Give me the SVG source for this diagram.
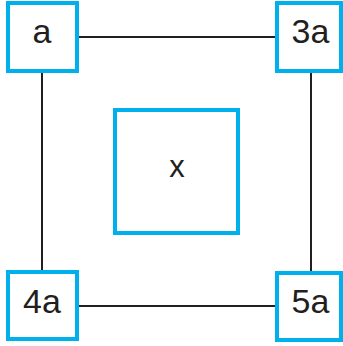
<svg xmlns="http://www.w3.org/2000/svg" width="343" height="346" viewBox="0 0 343 346">
<style>
.box{fill:#fff;stroke:#00b0ec;stroke-width:4}
.edge{stroke:#231f20;stroke-width:2;fill:none}
.lbl{font-family:"Liberation Sans",Arial,sans-serif;font-size:34px;fill:#231f20;text-anchor:middle}
</style>
<rect width="343" height="346" fill="#fff"/>
<g id="connectors">
<line class="edge" x1="79" y1="37" x2="275" y2="37"/>
<line class="edge" x1="42" y1="73" x2="42" y2="270"/>
<line class="edge" x1="311" y1="73" x2="311" y2="271"/>
<line class="edge" x1="79" y1="306" x2="275" y2="306"/>
</g>
<g id="node-a"><rect class="box" x="8" y="3" width="69" height="68"/><text class="lbl" x="42" y="43">a</text></g>
<g id="node-3a"><rect class="box" x="277" y="3" width="64" height="68"/><text class="lbl" x="310.5" y="43">3a</text></g>
<g id="node-4a"><rect class="box" x="8" y="272" width="69" height="67"/><text class="lbl" x="42" y="313">4a</text></g>
<g id="node-5a"><rect class="box" x="277" y="273" width="64" height="67"/><text class="lbl" x="310.5" y="313">5a</text></g>
<g id="node-x"><rect class="box" x="115" y="110" width="123" height="123"/><text class="lbl" x="177" y="177" style="font-size:31px">x</text></g>
</svg>
